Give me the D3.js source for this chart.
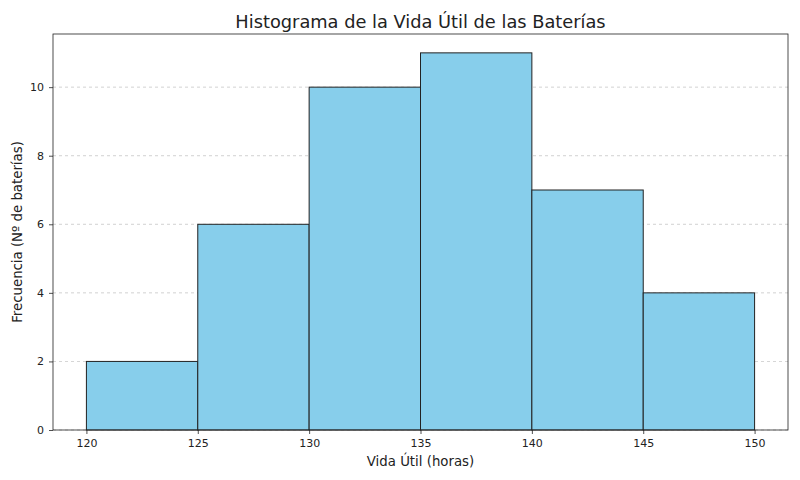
<!DOCTYPE html>
<html><head><meta charset="utf-8">
<script src="https://cdn.jsdelivr.net/npm/d3@7"></script>
<style>body{margin:0;background:#fff}svg{display:block;font-family:"DejaVu Sans",sans-serif}</style>
</head><body>
<svg id="c" width="800" height="480"></svg>
<script>
const binStarts = [120, 125, 130, 135, 140, 145];
const binWidth = 5;
const counts = [2, 6, 10, 11, 7, 4];
const xTicks = [120, 125, 130, 135, 140, 145, 150];
const yTicks = [0, 2, 4, 6, 8, 10];

const svg = d3.select("#c");
const m = {l:53, r:788, t:34, b:430};
const x = d3.scaleLinear().domain([118.5, 151.5]).range([m.l, m.r]);
const y = d3.scaleLinear().domain([0, 11.55]).range([m.b, m.t]);

// grid
svg.append("g").selectAll("line").data(yTicks).join("line")
  .attr("x1", m.l).attr("x2", m.r).attr("y1", d=>y(d)).attr("y2", d=>y(d))
  .attr("stroke", "#b0b0b0").attr("stroke-width", 0.8).attr("stroke-dasharray", "3,3").attr("opacity", 0.7);

// bars
svg.append("g").selectAll("rect").data(binStarts).join("rect")
  .attr("x", (d)=>x(d)).attr("width", d=>x(d+binWidth)-x(d))
  .attr("y", (d,i)=>y(counts[i])).attr("height", (d,i)=>y(0)-y(counts[i]))
  .attr("fill", "#87ceeb").attr("stroke", "#222").attr("stroke-width", 1);

// axes
const xa = svg.append("g").attr("transform", `translate(0,${m.b})`)
  .call(d3.axisBottom(x).tickValues(xTicks).tickSize(4).tickPadding(5).tickFormat(d3.format("d")));
const ya = svg.append("g").attr("transform", `translate(${m.l},0)`)
  .call(d3.axisLeft(y).tickValues(yTicks).tickSize(4).tickPadding(5).tickFormat(d3.format("d")));
[xa, ya].forEach(a => {
  a.select(".domain").remove();
  a.selectAll("text").attr("font-size", 11).attr("fill", "#222").attr("font-family", "DejaVu Sans");
  a.selectAll("line").attr("stroke", "#222").attr("stroke-width", 0.8);
});

// frame
svg.append("rect").attr("x", m.l).attr("y", m.t).attr("width", m.r-m.l).attr("height", m.b-m.t)
  .attr("fill", "none").attr("stroke", "#222").attr("stroke-width", 0.8);

svg.append("text").attr("x", (m.l+m.r)/2).attr("y", 28).attr("text-anchor", "middle")
  .attr("font-size", 17.8).attr("fill", "#222").text("Histograma de la Vida Útil de las Baterías");
svg.append("text").attr("x", (m.l+m.r)/2).attr("y", 466).attr("text-anchor", "middle")
  .attr("font-size", 13.3).attr("fill", "#222").text("Vida Útil (horas)");
svg.append("text").attr("transform", `translate(22,${(m.t+m.b)/2}) rotate(-90)`).attr("text-anchor", "middle")
  .attr("font-size", 13.3).attr("fill", "#222").text("Frecuencia (Nº de baterías)");
</script>
</body></html>
